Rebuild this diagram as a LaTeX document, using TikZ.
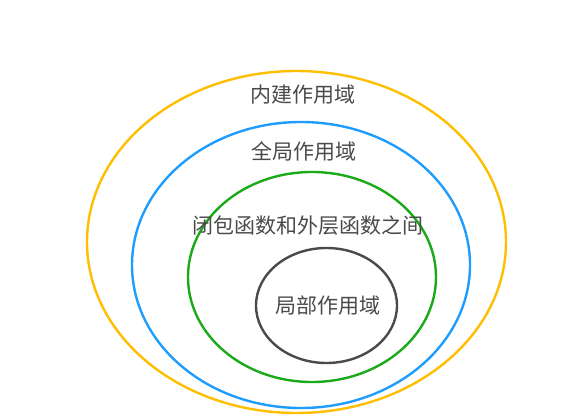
\documentclass[tikz,border=0pt]{standalone}
\usepackage{fontspec}
\newfontfamily\cjk{Noto Sans CJK SC}
\usetikzlibrary{shapes.geometric, positioning}

\definecolor{ringyellow}{HTML}{FFBE00}
\definecolor{ringblue}{HTML}{1E9DFF}
\definecolor{ringgreen}{HTML}{1AAA1A}
\definecolor{ringgray}{HTML}{4A4A4A}
\definecolor{labelgray}{HTML}{4A4A4A}

\begin{document}
\begin{tikzpicture}[x=1pt, y=-1pt,
    ring/.style={draw, ellipse, line width=2.4pt, inner sep=0pt},
    lbl/.style={font=\cjk\fontsize{21}{25}\selectfont, text=labelgray, inner sep=0pt}]
            \useasboundingbox (0,0) rectangle (573,420);
            % nested scopes
            \node[ring, draw=ringyellow, minimum width=419pt, minimum height=342pt] (builtin) at (296.5,242) {};
            \node[ring, draw=ringblue, minimum width=338pt, minimum height=286pt] (global) at (301,265) {};
            \node[ring, draw=ringgreen, minimum width=248pt, minimum height=210pt] (enclosing) at (312,277) {};
            \node[ring, draw=ringgray, minimum width=141pt, minimum height=115pt] (local) at (326.5,305.5) {};
            % labels
            \node[lbl] (builtinlbl) at (303,95) {内建作用域};
            \node[lbl] (globallbl) at (304,151) {全局作用域};
            \node[lbl] (enclosinglbl) at (307.5,226) {闭包函数和外层函数之间};
            \node[lbl] (locallbl) at (327.5,306) {局部作用域};
        \end{tikzpicture}
\end{document}
